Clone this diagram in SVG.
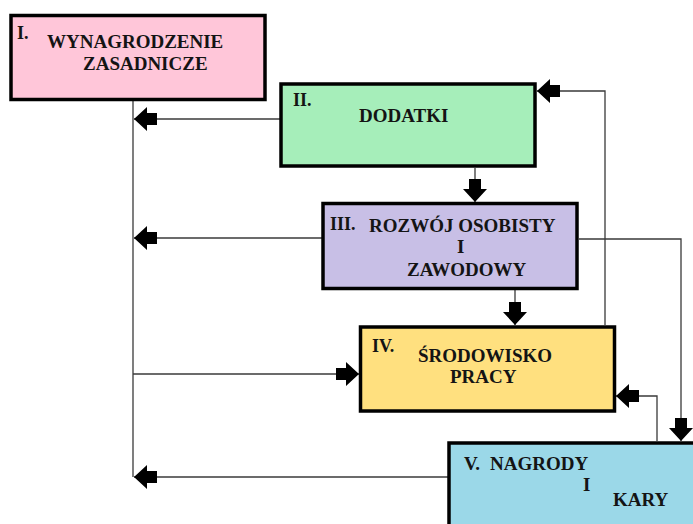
<svg xmlns="http://www.w3.org/2000/svg" width="693" height="524" viewBox="0 0 693 524">
<style>
.box{stroke:#000;stroke-width:3.5}
.t{font-family:"Liberation Serif","Times New Roman",serif;font-weight:bold;font-size:19px;fill:#141414}
.n{font-size:18px}
.c{fill:none;stroke:#3a3a3a;stroke-width:1.3}
</style>
<defs>
<marker id="ah" viewBox="0 0 23 24" markerWidth="23" markerHeight="24" refX="23" refY="12" orient="auto" markerUnits="userSpaceOnUse">
<path d="M23,12 L10,0 L10,6 L0,6 L0,18 L10,18 L10,24 Z" fill="#000"/>
</marker>
</defs>
<rect width="693" height="524" fill="#fff"/>
<g id="connectors">
<path class="c" d="M133,101 V477"/>
<path class="c" d="M280,119 H134" marker-end="url(#ah)"/>
<path class="c" d="M322,238 H134" marker-end="url(#ah)"/>
<path class="c" d="M133,374 H359" marker-end="url(#ah)"/>
<path class="c" d="M448,477 H134" marker-end="url(#ah)"/>
<path class="c" d="M475,168 V202" marker-end="url(#ah)"/>
<path class="c" d="M515,290 V325" marker-end="url(#ah)"/>
<path class="c" d="M605,325 V91 H537" marker-end="url(#ah)"/>
<path class="c" d="M579,239 H681 V441" marker-end="url(#ah)"/>
<path class="c" d="M657,441 V396 H616" marker-end="url(#ah)"/>
</g>
<g id="node1">
<rect class="box" x="11" y="15.5" width="254" height="84" fill="#FFC6D9"/>
<text class="t n" x="17" y="39">I.</text>
<text class="t" x="47" y="48">WYNAGRODZENIE</text>
<text class="t" x="83" y="70">ZASADNICZE</text>
</g>
<g id="node2">
<rect class="box" x="281" y="84" width="254" height="82" fill="#A6EEBA"/>
<text class="t n" x="293" y="106">II.</text>
<text class="t" x="359" y="122">DODATKI</text>
</g>
<g id="node3">
<rect class="box" x="323" y="203.5" width="254" height="85" fill="#C8BFE6"/>
<text class="t n" x="330" y="230">III.</text>
<text class="t" x="369" y="232">ROZWÓJ OSOBISTY</text>
<text class="t" x="457" y="253">I</text>
<text class="t" x="407" y="276">ZAWODOWY</text>
</g>
<g id="node4">
<rect class="box" x="360.5" y="327" width="254" height="84" fill="#FFE07F"/>
<text class="t n" x="372" y="352">IV.</text>
<text class="t" x="418" y="362">ŚRODOWISKO</text>
<text class="t" x="450" y="383">PRACY</text>
</g>
<g id="node5">
<rect class="box" x="449" y="443" width="262" height="100" fill="#9BD8E8"/>
<text class="t" x="464" y="470">V.</text>
<text class="t" x="490" y="470">NAGRODY</text>
<text class="t" x="583" y="491">I</text>
<text class="t" x="613" y="506">KARY</text>
</g>
</svg>
